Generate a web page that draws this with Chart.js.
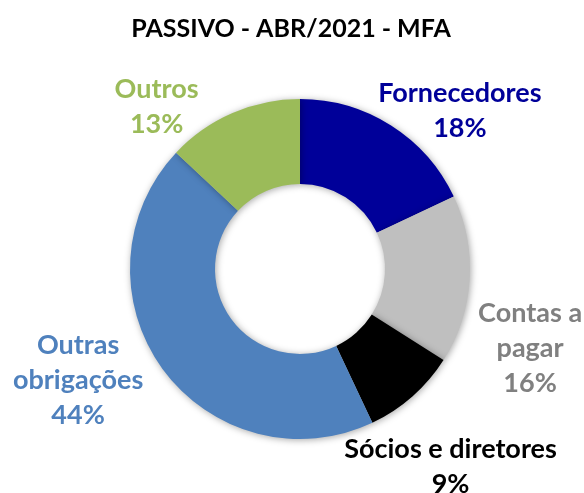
<!DOCTYPE html>
<html>
<head>
<meta charset="utf-8">
<script src="https://cdn.jsdelivr.net/npm/chart.js@4.4.0/dist/chart.umd.min.js"></script>
<style>
  html, body { margin: 0; padding: 0; background: #fff; }
  #wrap { width: 584px; height: 493px; }
</style>
</head>
<body>
<div id="wrap"><canvas id="myChart" width="584" height="493"></canvas></div>
<script>
// slices go clockwise from the top
const categories = ["Fornecedores", "Contas a pagar", "Sócios e diretores", "Outras obrigações", "Outros"];
const shares = [18, 16, 9, 44, 13];
const titleText = "PASSIVO - ABR/2021 - MFA";

const sliceColors = ["#000099", "#BFBFBF", "#000000", "#4F81BD", "#9BBB59"];
const labelColors = ["#000099", "#808080", "#000000", "#4F81BD", "#9BBB59"];
// how each label is wrapped, and how far it is nudged from the spot outside its slice
const labelLines = [["Fornecedores"], ["Contas a", "pagar"], ["Sócios e diretores"], ["Outras", "obrigações"], ["Outros"]];
const labelNudge = [[46, 21], [18, 66], [10, 38], [-50, -14], [-59, 33]];

const fontFamily = "Lato, 'Open Sans', sans-serif";

const titlePlugin = {
    id: "ownTitle",
    afterDraw(chart) {
        const c = chart.ctx;
        c.save();
        c.fillStyle = "#000";
        c.font = "bold 25px " + fontFamily;
        c.textAlign = "center";
        c.textBaseline = "middle";
        c.fillText(titleText, 291, 29);
        c.restore();
    }
};

const shadowPlugin = {
    id: "ringShadow",
    beforeDatasetDraw(chart) {
        const c = chart.ctx;
        c.save();
        c.shadowColor = "rgba(0,0,0,0.35)";
        c.shadowBlur = 7;
        c.shadowOffsetX = 1;
        c.shadowOffsetY = 1;
    },
    afterDatasetDraw(chart) {
        chart.ctx.restore();
    }
};

const labelPlugin = {
    id: "sliceLabels",
    afterDatasetsDraw(chart) {
        const c = chart.ctx;
        const meta = chart.getDatasetMeta(0);
        const total = shares.reduce((a, b) => a + b, 0);
        c.save();
        c.font = "bold 27px " + fontFamily;
        c.textAlign = "center";
        c.textBaseline = "middle";
        const lineH = 35;
        meta.data.forEach((arc, i) => {
            const p = arc.getProps(["x", "y", "startAngle", "endAngle", "outerRadius"], true);
            const mid = (p.startAngle + p.endAngle) / 2;
            const r = p.outerRadius * 1.25;
            const x = p.x + Math.cos(mid) * r + labelNudge[i][0];
            const y = p.y + Math.sin(mid) * r + labelNudge[i][1];
            const lines = labelLines[i].concat([Math.round(shares[i] / total * 100) + "%"]);
            const top = y - (lines.length - 1) * lineH / 2;
            c.fillStyle = labelColors[i];
            lines.forEach((t, k) => c.fillText(t, x, top + k * lineH));
        });
        c.restore();
    }
};

const ctx = document.getElementById("myChart").getContext("2d");
const myChart = new Chart(ctx, {
    type: "doughnut",
    data: {
        labels: categories,
        datasets: [{
            data: shares,
            backgroundColor: sliceColors,
            borderWidth: 0,
        }],
    },
    options: {
        responsive: false,
        animation: false,
        cutout: "50%",
        layout: { padding: { top: 99, bottom: 54, left: 130, right: 114 } },
        plugins: {
            legend: { display: false },
            title: { display: false },
            tooltip: { enabled: false },
        },
    },
    plugins: [shadowPlugin, labelPlugin, titlePlugin],
});
</script>
</body>
</html>
